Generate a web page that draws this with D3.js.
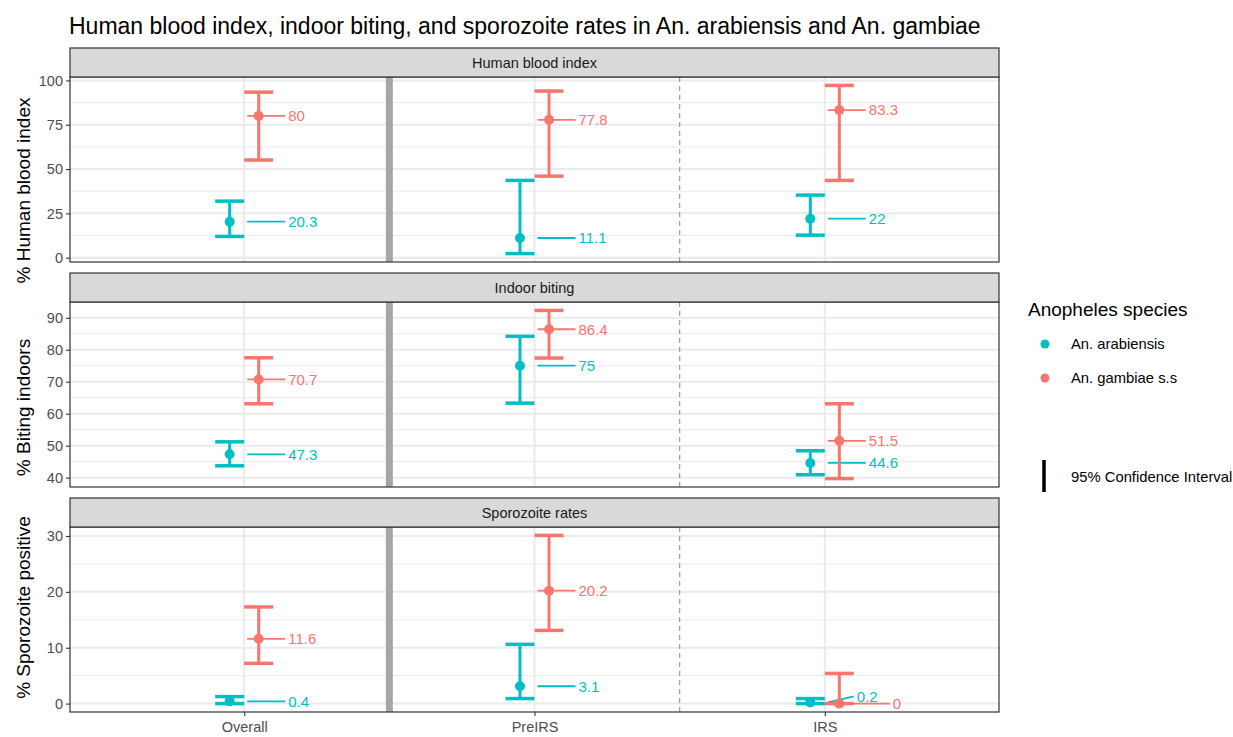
<!DOCTYPE html>
<html>
<head>
<meta charset="utf-8">
<script src="https://cdn.jsdelivr.net/npm/d3@7"></script>
<style>
  body { margin: 0; background: #fff; }
  svg { font-family: "Liberation Sans", Arial, sans-serif; }
</style>
</head>
<body>
<svg id="chart" width="1233" height="737"></svg>
<script>
"use strict";

// categories and series
const periods = ["Overall", "PreIRS", "IRS"];
const species = ["An. arabiensis", "An. gambiae s.s"];
const speciesColors = ["#00BFC4", "#F8766D"];
const panelNames = ["Human blood index", "Indoor biting", "Sporozoite rates"];
const axisTitles = ["% Human blood index", "% Biting indoors", "% Sporozoite positive"];

// estimates with 95% CI, one value per period
const hbiArabiensis = [20.3, 11.1, 22];
const hbiArabiensisLow = [12.0, 2.3, 12.7];
const hbiArabiensisHigh = [31.9, 43.6, 35.3];
const hbiGambiae = [80, 77.8, 83.3];
const hbiGambiaeLow = [55.1, 46.0, 43.6];
const hbiGambiaeHigh = [93.4, 94.0, 97.2];

const indoorArabiensis = [47.3, 75, 44.6];
const indoorArabiensisLow = [43.7, 63.3, 40.9];
const indoorArabiensisHigh = [51.2, 84.2, 48.4];
const indoorGambiae = [70.7, 86.4, 51.5];
const indoorGambiaeLow = [63.1, 77.4, 39.7];
const indoorGambiaeHigh = [77.5, 92.3, 63.1];

const sporoArabiensis = [0.4, 3.1, 0.2];
const sporoArabiensisLow = [0, 0.9, 0];
const sporoArabiensisHigh = [1.25, 10.6, 0.9];
const sporoGambiae = [11.6, 20.2, 0];
const sporoGambiaeLow = [7.2, 13.1, 0];
const sporoGambiaeHigh = [17.3, 30.1, 5.4];

// tick labels for each panel
const hbiTicks = [0, 25, 50, 75, 100];
const indoorTicks = [40, 50, 60, 70, 80, 90];
const sporoTicks = [0, 10, 20, 30];

function buildRows(est, lo, hi) {
    let rows = [];
    est.forEach((s, si) => {
        periods.forEach((p, pi) => {
            rows.push({period: p, species: species[si], si: si, est: s[pi], lo: lo[si][pi], hi: hi[si][pi]});
        });
    });
    return rows;
}

const panels = [
    {name: panelNames[0], title: axisTitles[0], ticks: hbiTicks, minor: 12.5,
     rows: buildRows([hbiArabiensis, hbiGambiae], [hbiArabiensisLow, hbiGambiaeLow], [hbiArabiensisHigh, hbiGambiaeHigh])},
    {name: panelNames[1], title: axisTitles[1], ticks: indoorTicks, minor: 5,
     rows: buildRows([indoorArabiensis, indoorGambiae], [indoorArabiensisLow, indoorGambiaeLow], [indoorArabiensisHigh, indoorGambiaeHigh])},
    {name: panelNames[2], title: axisTitles[2], ticks: sporoTicks, minor: 5,
     rows: buildRows([sporoArabiensis, sporoGambiae], [sporoArabiensisLow, sporoGambiaeLow], [sporoArabiensisHigh, sporoGambiaeHigh])}
];

const svg = d3.select("#chart");
const plotLeft = 70, plotRight = 999;
const stripH = 29, panelH = 185, panelGap = 11, firstTop = 48;
// y titles are not exactly centred on their panels in the original
const titleShift = [21, 13, -12];

const x = d3.scalePoint().domain(periods).range([plotLeft, plotRight]).padding(0.6);
const step = x.step();
const dodge = step * 0.05;
const capW = step * 0.1;

// title
svg.append("text")
    .attr("x", plotLeft - 1).attr("y", 34)
    .style("font-size", "23px").style("fill", "#000")
    .text("Human blood index, indoor biting, and sporozoite rates in An. arabiensis and An. gambiae");

panels.forEach((panel, k) => {
    let stripTop = firstTop + k * (stripH + panelH + panelGap);
    let top = stripTop + stripH;
    let bottom = top + panelH;

    // ggplot style 5% expansion of the data range
    let vals = panel.rows.flatMap(r => [r.lo, r.hi]);
    let lo = d3.min(vals), hi = d3.max(vals);
    let pad = (hi - lo) * 0.05;
    let y = d3.scaleLinear().domain([lo - pad, hi + pad]).range([bottom, top]);

    let g = svg.append("g");

    // grid: minor then major
    let minorVals = d3.range(panel.ticks[0] - panel.minor, panel.ticks[panel.ticks.length - 1] + panel.minor * 1.01, panel.minor * 2)
        .filter(v => y(v) >= top && y(v) <= bottom);
    g.selectAll(".minor").data(minorVals).enter().append("line")
        .attr("x1", plotLeft).attr("x2", plotRight)
        .attr("y1", d => y(d)).attr("y2", d => y(d))
        .style("stroke", "#EBEBEB").style("stroke-width", 1);
    g.selectAll(".major").data(panel.ticks).enter().append("line")
        .attr("x1", plotLeft).attr("x2", plotRight)
        .attr("y1", d => y(d)).attr("y2", d => y(d))
        .style("stroke", "#EBEBEB").style("stroke-width", 2);
    g.selectAll(".vgrid").data(periods).enter().append("line")
        .attr("x1", d => x(d)).attr("x2", d => x(d))
        .attr("y1", top).attr("y2", bottom)
        .style("stroke", "#EBEBEB").style("stroke-width", 2);

    // period separators
    g.append("line")
        .attr("x1", x(periods[0]) + step / 2).attr("x2", x(periods[0]) + step / 2)
        .attr("y1", top).attr("y2", bottom)
        .style("stroke", "#A6A6A6").style("stroke-width", 7);
    g.append("line")
        .attr("x1", x(periods[1]) + step / 2).attr("x2", x(periods[1]) + step / 2)
        .attr("y1", top).attr("y2", bottom)
        .style("stroke", "#999").style("stroke-width", 1.2).style("stroke-dasharray", "5,4");

    // label placement, push apart labels that land on each other
    panel.rows.forEach(r => {
        r.lx = x(r.period) + 44;
        r.ly = y(r.est);
    });
    periods.forEach(p => {
        let pair = panel.rows.filter(r => r.period === p);
        if (Math.abs(pair[0].ly - pair[1].ly) < 12) {
            pair[0].lx -= 12; pair[0].ly -= 6;
            pair[1].lx += 24;
        }
    });

    // label segments
    g.selectAll(".seg").data(panel.rows).enter().append("line")
        .attr("x1", d => x(d.period) + 3).attr("y1", d => y(d.est))
        .attr("x2", d => d.lx - 3).attr("y2", d => d.ly)
        .style("stroke", d => speciesColors[d.si]).style("stroke-width", 1.8);

    // error bars
    let eb = g.selectAll(".eb").data(panel.rows).enter().append("g")
        .style("stroke", d => speciesColors[d.si]);
    eb.append("line")
        .attr("x1", d => x(d.period) + (d.si ? dodge : -dodge))
        .attr("x2", d => x(d.period) + (d.si ? dodge : -dodge))
        .attr("y1", d => y(d.lo)).attr("y2", d => y(d.hi))
        .style("stroke-width", 3);
    eb.selectAll(".cap").data(d => [[d, d.lo], [d, d.hi]]).enter().append("line")
        .attr("x1", d => x(d[0].period) + (d[0].si ? dodge : -dodge) - capW / 2)
        .attr("x2", d => x(d[0].period) + (d[0].si ? dodge : -dodge) + capW / 2)
        .attr("y1", d => y(d[1])).attr("y2", d => y(d[1]))
        .style("stroke-width", 3.5);

    // points
    g.selectAll(".pt").data(panel.rows).enter().append("circle")
        .attr("cx", d => x(d.period) + (d.si ? dodge : -dodge))
        .attr("cy", d => y(d.est))
        .attr("r", 5)
        .style("fill", d => speciesColors[d.si]);

    // value labels
    g.selectAll(".lab").data(panel.rows).enter().append("text")
        .attr("x", d => d.lx).attr("y", d => d.ly)
        .attr("dy", "0.35em")
        .style("font-size", "15px")
        .style("fill", d => speciesColors[d.si])
        .text(d => d.est);

    // panel border
    g.append("rect")
        .attr("x", plotLeft).attr("y", top)
        .attr("width", plotRight - plotLeft).attr("height", panelH)
        .style("fill", "none").style("stroke", "#333").style("stroke-width", 1.2);

    // strip
    g.append("rect")
        .attr("x", plotLeft).attr("y", stripTop)
        .attr("width", plotRight - plotLeft).attr("height", stripH)
        .style("fill", "#D9D9D9").style("stroke", "#333").style("stroke-width", 1.2);
    g.append("text")
        .attr("x", (plotLeft + plotRight) / 2).attr("y", stripTop + stripH / 2)
        .attr("dy", "0.35em").attr("text-anchor", "middle")
        .style("font-size", "14.5px").style("fill", "#1A1A1A")
        .text(panel.name);

    // y axis
    let yAxis = d3.axisLeft(y).tickValues(panel.ticks).tickSize(4).tickPadding(3);
    let ag = svg.append("g").attr("transform", "translate(" + plotLeft + ",0)").call(yAxis);
    ag.select(".domain").remove();
    ag.selectAll(".tick line").style("stroke", "#333").style("stroke-width", 1.1);
    ag.selectAll(".tick text").style("font-size", "14.5px").style("fill", "#4D4D4D")
        .style("font-family", "Liberation Sans, Arial, sans-serif");

    svg.append("text")
        .attr("transform", "translate(30," + ((top + bottom) / 2 + titleShift[k]) + ") rotate(-90)")
        .attr("text-anchor", "middle")
        .style("font-size", "19px").style("fill", "#000")
        .text(panel.title);

    if (k === panels.length - 1) {
        let xAxis = d3.axisBottom(x).tickSize(4).tickPadding(6);
        let xg = svg.append("g").attr("transform", "translate(0," + bottom + ")").call(xAxis);
        xg.select(".domain").remove();
        xg.selectAll(".tick line").style("stroke", "#333").style("stroke-width", 1.1);
        xg.selectAll(".tick text").style("font-size", "14.5px").style("fill", "#4D4D4D")
            .style("font-family", "Liberation Sans, Arial, sans-serif");
    }
});

// legend
let lg = svg.append("g");
lg.append("text").attr("x", 1028).attr("y", 316)
    .style("font-size", "19px").style("fill", "#000").text("Anopheles species");
let items = lg.selectAll(".item").data(species).enter().append("g");
items.append("circle")
    .attr("cx", 1045).attr("cy", (d, i) => 344 + i * 34).attr("r", 4.5)
    .style("fill", (d, i) => speciesColors[i]);
items.append("text")
    .attr("x", 1071).attr("y", (d, i) => 344 + i * 34).attr("dy", "0.35em")
    .style("font-size", "14.8px").style("fill", "#000").text(d => d);
lg.append("line").attr("x1", 1044).attr("x2", 1044).attr("y1", 460).attr("y2", 492)
    .style("stroke", "#000").style("stroke-width", 3.5);
lg.append("text").attr("x", 1071).attr("y", 477).attr("dy", "0.35em")
    .style("font-size", "14.8px").style("fill", "#000").text("95% Confidence Interval");
</script>
</body>
</html>
